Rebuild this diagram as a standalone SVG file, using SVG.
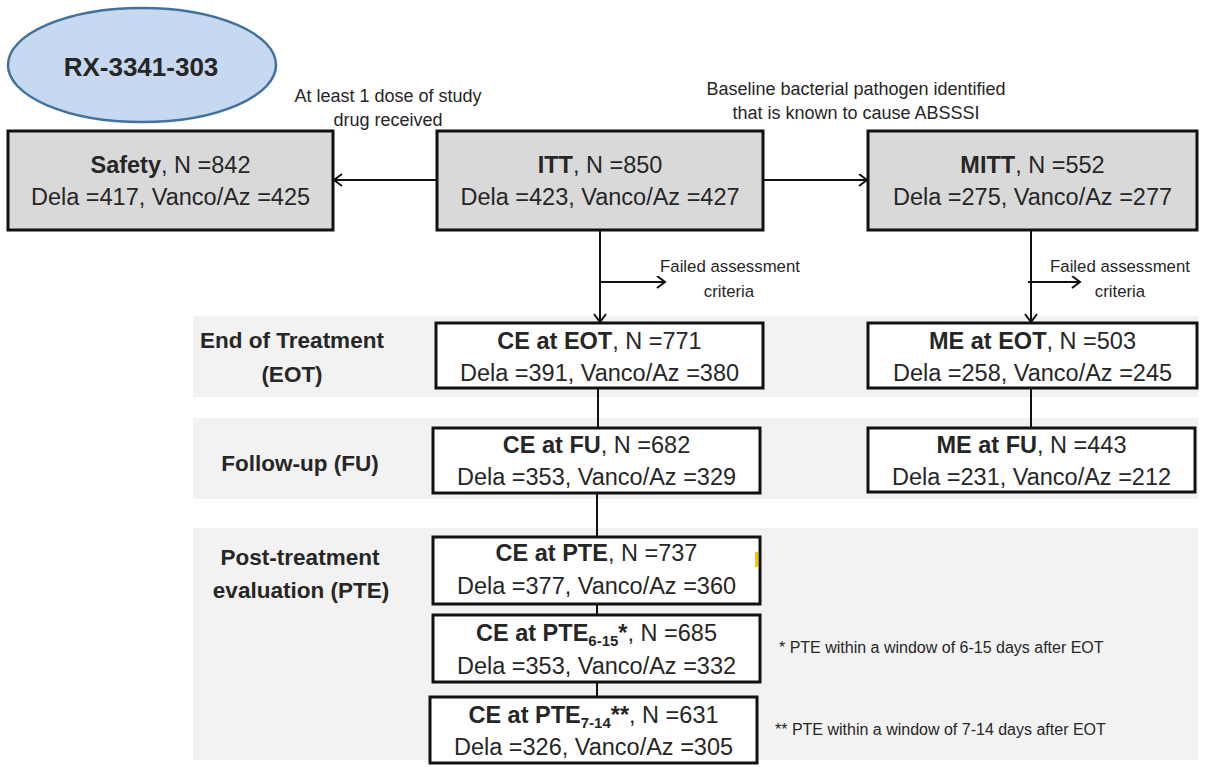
<svg xmlns="http://www.w3.org/2000/svg" width="1205" height="767" viewBox="0 0 1205 767">
<style>
text{font-family:"Liberation Sans",Arial,sans-serif;fill:#262626}
.band{fill:#f2f2f2}
.gbox{fill:#d9d9d9;stroke:#111;stroke-width:3}
.wbox{fill:#fff;stroke:#111;stroke-width:3}
.bt{font-size:23.5px;text-anchor:middle}
.b{font-weight:bold}
.lbl{font-size:18px;text-anchor:middle}
.fl{font-size:16.8px;text-anchor:middle}
.row{font-size:22.5px;font-weight:bold;text-anchor:middle}
.fn{font-size:16px}
.con{stroke:#111;stroke-width:2;fill:none}
</style>
<defs>
<marker id="ah" markerUnits="userSpaceOnUse" markerWidth="12" markerHeight="14" refX="9" refY="6.5" orient="auto">
<path d="M1,0.5 L9,6.5 L1,12.5" fill="none" stroke="#111" stroke-width="2"/>
</marker>
</defs>
<rect width="1205" height="767" fill="#fff"/>
<g id="bands">
<rect class="band" x="193" y="316" width="1005" height="81"/>
<rect class="band" x="193" y="418" width="1005" height="81"/>
<rect class="band" x="193" y="528" width="1005" height="232"/>
</g>
<g id="title">
<ellipse cx="142" cy="65" rx="134" ry="57" fill="#c6d9f1" stroke="#41719c" stroke-width="2.5"/>
<text x="141" y="76" font-size="26" font-weight="bold" text-anchor="middle">RX-3341-303</text>
</g>
<g id="connectors">
<line class="con" x1="437" y1="180" x2="334" y2="180" marker-end="url(#ah)"/>
<line class="con" x1="763" y1="180" x2="867" y2="180" marker-end="url(#ah)"/>
<line class="con" x1="600" y1="230" x2="600" y2="322" marker-end="url(#ah)"/>
<line class="con" x1="600" y1="282" x2="665" y2="282" marker-end="url(#ah)"/>
<line class="con" x1="1031" y1="230" x2="1031" y2="322" marker-end="url(#ah)"/>
<line class="con" x1="1028" y1="282" x2="1080" y2="282" marker-end="url(#ah)"/>
<line class="con" x1="598" y1="388" x2="598" y2="428"/>
<line class="con" x1="1031" y1="388" x2="1031" y2="428"/>
<line class="con" x1="597" y1="493" x2="597" y2="537"/>
<line class="con" x1="597" y1="604" x2="597" y2="615"/>
<line class="con" x1="597" y1="682" x2="597" y2="697"/>
</g>
<g id="edge-labels">
<text class="lbl" x="388" y="102">At least 1 dose of study</text>
<text class="lbl" x="388" y="126">drug received</text>
<text class="lbl" x="856" y="95">Baseline bacterial pathogen identified</text>
<text class="lbl" x="856" y="119">that is known to cause ABSSSI</text>
<text class="fl" x="730" y="272">Failed assessment</text>
<text class="fl" x="729" y="297">criteria</text>
<text class="fl" x="1120" y="272">Failed assessment</text>
<text class="fl" x="1120" y="297">criteria</text>
</g>
<g id="row-labels">
<text class="row" x="292" y="348">End of Treatment</text>
<text class="row" x="292" y="382">(EOT)</text>
<text class="row" x="300" y="471">Follow-up (FU)</text>
<text class="row" x="300" y="565">Post-treatment</text>
<text class="row" x="301" y="598">evaluation (PTE)</text>
</g>
<g id="safety">
<rect class="gbox" x="8" y="131" width="325" height="99"/>
<text class="bt" x="170.5" y="173"><tspan class="b">Safety</tspan>, N =842</text>
<text class="bt" x="170.5" y="205">Dela =417, Vanco/Az =425</text>
</g>
<g id="itt">
<rect class="gbox" x="437" y="131" width="326" height="99"/>
<text class="bt" x="600" y="173"><tspan class="b">ITT</tspan>, N =850</text>
<text class="bt" x="600" y="205">Dela =423, Vanco/Az =427</text>
</g>
<g id="mitt">
<rect class="gbox" x="868" y="131" width="329" height="99"/>
<text class="bt" x="1032.5" y="173"><tspan class="b">MITT</tspan>, N =552</text>
<text class="bt" x="1032.5" y="205">Dela =275, Vanco/Az =277</text>
</g>
<g id="ce-eot">
<rect class="wbox" x="436" y="323" width="327" height="65"/>
<text class="bt" x="599.5" y="349"><tspan class="b">CE at EOT</tspan>, N =771</text>
<text class="bt" x="599.5" y="381">Dela =391, Vanco/Az =380</text>
</g>
<g id="me-eot">
<rect class="wbox" x="868" y="323" width="329" height="65"/>
<text class="bt" x="1032.5" y="349"><tspan class="b">ME at EOT</tspan>, N =503</text>
<text class="bt" x="1032.5" y="381">Dela =258, Vanco/Az =245</text>
</g>
<g id="ce-fu">
<rect class="wbox" x="433" y="428" width="327" height="65"/>
<text class="bt" x="596.5" y="453"><tspan class="b">CE at FU</tspan>, N =682</text>
<text class="bt" x="596.5" y="485">Dela =353, Vanco/Az =329</text>
</g>
<g id="me-fu">
<rect class="wbox" x="868" y="428" width="327" height="64"/>
<text class="bt" x="1031.5" y="453"><tspan class="b">ME at FU</tspan>, N =443</text>
<text class="bt" x="1031.5" y="485">Dela =231, Vanco/Az =212</text>
</g>
<g id="ce-pte">
<rect class="wbox" x="433" y="537" width="327" height="67"/>
<rect x="755" y="552" width="3" height="15" fill="#f0c800"/>
<text class="bt" x="596.5" y="561"><tspan class="b">CE at PTE</tspan>, N =737</text>
<text class="bt" x="596.5" y="594">Dela =377, Vanco/Az =360</text>
</g>
<g id="ce-pte-6-15">
<rect class="wbox" x="433" y="615" width="327" height="67"/>
<text class="bt" x="596.5" y="641"><tspan class="b">CE at PTE</tspan><tspan class="b" font-size="15" dy="5">6-15</tspan><tspan class="b" dy="-5">*</tspan>,  N =685</text>
<text class="bt" x="596.5" y="674">Dela =353, Vanco/Az =332</text>
</g>
<g id="ce-pte-7-14">
<rect class="wbox" x="430" y="697" width="327" height="66"/>
<text class="bt" x="593.5" y="723"><tspan class="b">CE at PTE</tspan><tspan class="b" font-size="15" dy="5">7-14</tspan><tspan class="b" dy="-5">**</tspan>,  N =631</text>
<text class="bt" x="593.5" y="755">Dela =326, Vanco/Az =305</text>
</g>
<g id="footnotes">
<text class="fn" x="779" y="653">* PTE within a window of 6-15 days after EOT</text>
<text class="fn" x="775" y="735">** PTE within a window of 7-14 days after EOT</text>
</g>
</svg>
